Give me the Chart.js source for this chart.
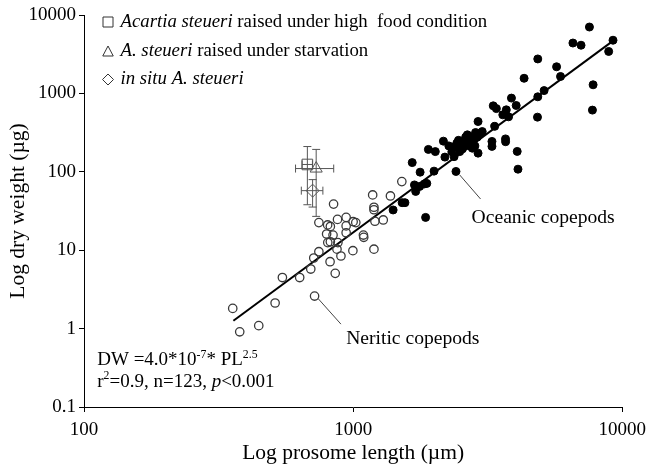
<!DOCTYPE html>
<html>
<head>
<meta charset="utf-8">
<script src="https://cdn.jsdelivr.net/npm/chart.js@4.4.0/dist/chart.umd.min.js"></script>
<style>
  html, body { margin: 0; padding: 0; background: #fff; }
  canvas { display: block; }
</style>
</head>
<body>
<canvas id="chart" width="653" height="468"></canvas>
<script>
// axis ticks
const xTicks = [100, 1000, 10000];
const yTicks = [0.1, 1, 10, 100, 1000, 10000];

// neritic copepods (open circles): prosome length (um), dry weight (ug)
const neriticPL = [357, 379, 446, 513, 546, 633, 696, 714, 719, 746, 746, 804, 823, 875, 942, 1000, 1023, 942, 1205, 1294,
  797, 842, 942, 1092, 1095, 805, 823, 878, 871, 998, 1195, 821, 901, 858, 846, 1195, 1195, 1182, 1376, 1517];
const neriticDW = [1.81, 0.91, 1.09, 2.12, 4.48, 4.48, 5.75, 7.95, 2.60, 9.57, 22.5, 21.0, 20.1, 24.7, 26.2, 23.1, 22.5, 20.4, 23.4, 24.3,
  16.1, 15.6, 16.7, 15.6, 14.6, 12.5, 12.8, 12.5, 10.3, 9.86, 10.3, 7.13, 8.43, 5.07, 38.7, 35.3, 32.8, 50.7, 49.2, 75];

// oceanic copepods (filled circles)
const oceanicPL = [1408, 1521, 1558, 1690, 1708, 1767, 1840, 1878, 1859, 1658, 1774, 1904, 2020, 1998, 2165, 2193, 2327, 2372, 2392, 2428,
  2463, 2490, 2512, 2548, 2620, 2658, 2681, 2710, 2745, 2773, 2834, 2851, 2893, 2912, 2975, 3018, 2912, 2411, 3280, 3280,
  3316, 3406, 3357, 3599, 3708, 3781, 3683, 3686, 3875, 4036, 4071, 4098, 4318, 4854, 4854, 4842, 5124, 5702, 5897, 6557,
  7029, 7552, 7793, 7748, 8903, 9240, 2268, 2586, 2803];
const oceanicDW = [32.6, 40.4, 40.4, 68, 56.2, 65.1, 70, 71.1, 26.2, 131, 98.9, 193, 181, 102, 246, 154, 180, 156, 210, 232,
  252, 181, 214, 196, 277, 296, 243, 214, 279, 200, 214, 317, 277, 173, 311, 326, 438, 101, 244, 211,
  694, 640, 380, 533, 617, 503, 263, 242, 871, 701, 182, 108, 1559, 2751, 905, 498, 1086, 2186, 1644, 4390,
  4115, 7025, 1288, 612, 3429, 4767, 214, 234, 256];

// Acartia steueri: high food, starvation, in situ (mean, +/- error)
const steueriPL = [676, 729, 707];
const steueriDW = [124, 110, 57.5];
const steueriPLErr = [30, 118, 65];
const steueriDWErr = [86, 83, 22];

// regression line end points
const fitPL = [359, 9080];
const fitDW = [1.26, 4470];

// leader lines and label anchors (data coords)
const oceanicLeaderPL = [2490, 2975];
const oceanicLeaderDW = [91, 45];
const oceanicLabel = [2756, 25.8];
const neriticLeaderPL = [740, 901];
const neriticLeaderDW = [2.43, 1.14];
const neriticLabel = [942, 0.75];
const eqPos = [112, 0.396, 0.209];

const serif = '"Liberation Serif", "Times New Roman", serif';
Chart.defaults.font.family = serif;
Chart.defaults.color = '#000';

const toPts = (xs, ys) => xs.map((x, i) => ({ x: x, y: ys[i] }));

function drawRich(ctx, x, y, segs, size) {
  let cx = x;
  segs.forEach(([text, style]) => {
    const italic = style.includes('i');
    const sup = style.includes('s');
    const fs = sup ? size * 0.62 : size;
    ctx.font = (italic ? 'italic ' : '') + fs + 'px ' + serif;
    ctx.fillText(text, cx, sup ? y - size * 0.3 : y);
    cx += ctx.measureText(text).width;
  });
}

function marker(ctx, kind, x, y, r) {
  ctx.beginPath();
  if (kind === 'rect') {
    ctx.rect(x - r, y - r, 2 * r, 2 * r);
  } else if (kind === 'triangle') {
    ctx.moveTo(x, y - r * 1.1);
    ctx.lineTo(x + r * 1.05, y + r * 0.9);
    ctx.lineTo(x - r * 1.05, y + r * 0.9);
    ctx.closePath();
  } else {
    ctx.moveTo(x, y - r * 1.1);
    ctx.lineTo(x + r * 1.1, y);
    ctx.lineTo(x, y + r * 1.1);
    ctx.lineTo(x - r * 1.1, y);
    ctx.closePath();
  }
  ctx.stroke();
}

const extras = {
  id: 'extras',
  beforeDatasetsDraw(chart) {
    const { ctx, scales: { x, y } } = chart;
    ctx.save();
    ctx.strokeStyle = '#555';
    ctx.lineWidth = 1;
    // error bars
    steueriPL.forEach((pl, i) => {
      const px = x.getPixelForValue(pl);
      const py = y.getPixelForValue(steueriDW[i]);
      const x0 = x.getPixelForValue(pl - steueriPLErr[i]);
      const x1 = x.getPixelForValue(pl + steueriPLErr[i]);
      const y0 = y.getPixelForValue(steueriDW[i] + steueriDWErr[i]);
      const y1 = y.getPixelForValue(steueriDW[i] - steueriDWErr[i]);
      ctx.beginPath();
      ctx.moveTo(x0, py); ctx.lineTo(x1, py);
      ctx.moveTo(x0, py - 4); ctx.lineTo(x0, py + 4);
      ctx.moveTo(x1, py - 4); ctx.lineTo(x1, py + 4);
      ctx.moveTo(px, y0); ctx.lineTo(px, y1);
      ctx.moveTo(px - 4, y0); ctx.lineTo(px + 4, y0);
      ctx.moveTo(px - 4, y1); ctx.lineTo(px + 4, y1);
      ctx.stroke();
    });
    ctx.restore();
  },
  afterDatasetsDraw(chart) {
    const { ctx, chartArea, scales: { x, y } } = chart;
    ctx.save();
    // leader lines
    ctx.strokeStyle = '#444';
    ctx.lineWidth = 1;
    [[oceanicLeaderPL, oceanicLeaderDW], [neriticLeaderPL, neriticLeaderDW]].forEach(([pls, dws]) => {
      ctx.beginPath();
      ctx.moveTo(x.getPixelForValue(pls[0]), y.getPixelForValue(dws[0]));
      ctx.lineTo(x.getPixelForValue(pls[1]), y.getPixelForValue(dws[1]));
      ctx.stroke();
    });
    ctx.fillStyle = '#000';
    ctx.textBaseline = 'middle';
    ctx.textAlign = 'left';
    drawRich(ctx, x.getPixelForValue(oceanicLabel[0]), y.getPixelForValue(oceanicLabel[1]), [['Oceanic copepods', '']], 19.6);
    drawRich(ctx, x.getPixelForValue(neriticLabel[0]), y.getPixelForValue(neriticLabel[1]), [['Neritic copepods', '']], 19.6);
    // equation
    const ex = x.getPixelForValue(eqPos[0]);
    drawRich(ctx, ex, y.getPixelForValue(eqPos[1]),
      [['DW =4.0*10', ''], ['-7', 's'], ['* PL', ''], ['2.5', 's']], 19);
    drawRich(ctx, ex, y.getPixelForValue(eqPos[2]),
      [['r', ''], ['2', 's'], ['=0.9, n=123, ', ''], ['p', 'i'], ['<0.001', '']], 19);
    // legend
    const lx = chartArea.left + 24;
    const rows = [
      ['rect', 22, [['Acartia steueri', 'i'], [' raised under high  food condition', '']]],
      ['triangle', 51.5, [['A. steueri', 'i'], [' raised under starvation', '']]],
      ['diamond', 79.5, [['in situ A. steueri', 'i']]]
    ];
    rows.forEach(([kind, ly, segs]) => {
      ctx.strokeStyle = '#333';
      marker(ctx, kind, lx, ly, 5);
      drawRich(ctx, lx + 12.5, ly, segs, 18.8);
    });
    ctx.restore();
  }
};

new Chart(document.getElementById('chart'), {
  type: 'scatter',
  data: {
    datasets: [
      {
        data: toPts(neriticPL, neriticDW),
        pointRadius: 4.2,
        pointBorderWidth: 1.3,
        pointBorderColor: '#3a3a3a',
        pointBackgroundColor: 'rgba(255,255,255,0)'
      },
      {
        data: toPts(oceanicPL, oceanicDW),
        pointRadius: 4,
        pointBorderWidth: 1,
        pointBorderColor: '#000',
        pointBackgroundColor: '#000'
      },
      {
        type: 'line',
        data: toPts(fitPL, fitDW),
        showLine: true,
        borderColor: '#000',
        borderWidth: 2,
        pointRadius: 0,
        fill: false
      },
      {
        data: toPts(steueriPL.slice(0, 1), steueriDW.slice(0, 1)),
        pointStyle: 'rect', pointRadius: 7.5, pointBorderWidth: 1,
        pointBorderColor: '#555', pointBackgroundColor: 'rgba(255,255,255,0)'
      },
      {
        data: toPts(steueriPL.slice(1, 2), steueriDW.slice(1, 2)),
        pointStyle: 'triangle', pointRadius: 7, pointBorderWidth: 1,
        pointBorderColor: '#555', pointBackgroundColor: 'rgba(255,255,255,0)'
      },
      {
        data: toPts(steueriPL.slice(2, 3), steueriDW.slice(2, 3)),
        pointStyle: 'rectRot', pointRadius: 6.5, pointBorderWidth: 1,
        pointBorderColor: '#555', pointBackgroundColor: 'rgba(255,255,255,0)'
      }
    ]
  },
  options: {
    responsive: false,
    animation: false,
    devicePixelRatio: 1,
    layout: { padding: { left: 0, right: 25, top: 15, bottom: 0 } },
    plugins: { legend: { display: false }, tooltip: { enabled: false } },
    scales: {
      x: {
        type: 'logarithmic',
        position: 'bottom',
        min: 100,
        max: 10000,
        afterBuildTicks: s => { s.ticks = xTicks.map(v => ({ value: v })); },
        afterFit: s => { s.height = 61; },
        ticks: { callback: v => String(v), font: { size: 19 }, color: '#000', padding: 7, maxRotation: 0, autoSkip: false },
        grid: { drawOnChartArea: false, tickLength: 5, color: '#000' },
        border: { color: '#000', width: 1 },
        title: { display: true, text: 'Log prosome length (µm)', font: { size: 21.5 }, color: '#000', padding: { top: 0, bottom: 2 } }
      },
      y: {
        type: 'logarithmic',
        min: 0.1,
        max: 10000,
        afterBuildTicks: s => { s.ticks = yTicks.map(v => ({ value: v })); },
        afterFit: s => { s.width = 84; },
        ticks: { callback: v => String(v), font: { size: 19 }, color: '#000', padding: 3, autoSkip: false },
        grid: { drawOnChartArea: false, tickLength: 5, color: '#000' },
        border: { color: '#000', width: 1 },
        title: { display: true, text: 'Log dry weight (µg)', font: { size: 21.5 }, color: '#000', padding: { top: 5 } }
      }
    }
  },
  plugins: [extras]
});
</script>
</body>
</html>
